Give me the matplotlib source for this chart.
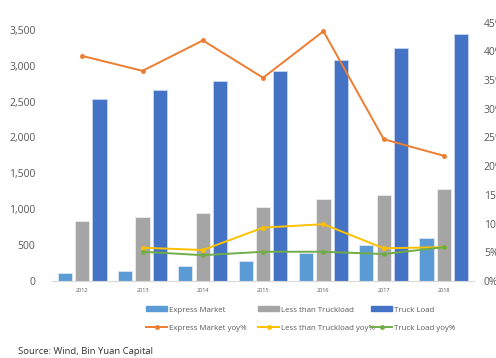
import numpy as np
import matplotlib
matplotlib.use('Agg')
import matplotlib.pyplot as plt
from matplotlib.lines import Line2D
from matplotlib.patches import Patch

plt.rcParams['font.family'] = ['Open Sans', 'DejaVu Sans']

# Data (billion RMB) and yoy growth
years = ['2012', '2013', '2014', '2015', '2016', '2017', '2018']
express = [106, 144, 205, 277, 397, 496, 603]
ltl = [840, 896, 943, 1026, 1142, 1198, 1277]
truck = [2535, 2660, 2780, 2930, 3080, 3250, 3440]
express_yoy = [39.2, 36.6, 41.9, 35.4, 43.5, 24.7, 21.8]
ltl_yoy = [np.nan, 5.8, 5.4, 9.3, 9.9, 5.7, 5.9]
truck_yoy = [np.nan, 5.1, 4.5, 5.1, 5.1, 4.7, 5.9]

c_exp, c_ltl, c_tl = '#5B9BD5', '#A5A5A5', '#4472C4'
c_exp_l, c_ltl_l, c_tl_l = '#ED7D31', '#FFC000', '#70AD47'

fig = plt.figure(figsize=(4.96, 3.58), dpi=100)
ax = fig.add_axes([0.105, 0.215, 0.851, 0.802])
x = np.arange(len(years))
w = 0.235
ax.bar(x - 0.29, express, w, color=c_exp, edgecolor='#DCE6F2', linewidth=0.6)
ax.bar(x, ltl, w, color=c_ltl, edgecolor='#EDEDED', linewidth=0.6)
ax.bar(x + 0.285, truck, w, color=c_tl, edgecolor='#C9D6EE', linewidth=0.6)
ax.set_ylim(0, 4000)
ax.set_xlim(-0.5, len(years) - 0.5)
ax.set_yticks(range(0, 3501, 500))
ax.set_yticklabels([f'{v:,}' for v in range(0, 3501, 500)])
ax.set_xticks(x)
ax.set_xticklabels(years, fontsize=4, color='#595959')
ax.tick_params(axis='y', length=0, labelsize=7.5, labelcolor='#595959', pad=12)
ax.tick_params(axis='x', length=0, pad=5)
for s in ['top', 'right', 'left']:
    ax.spines[s].set_visible(False)
ax.spines['bottom'].set_color('#D9D9D9')

ax2 = ax.twinx()
mk = dict(marker='o', markersize=2.5, linewidth=1.4)
ax2.plot(x, express_yoy, color=c_exp_l, **mk)
ax2.plot(x, ltl_yoy, color=c_ltl_l, **mk)
ax2.plot(x, truck_yoy, color=c_tl_l, **mk)
ax2.set_ylim(0, 50)
ax2.set_yticks(range(0, 46, 5))
ax2.set_yticklabels([f'{v}%' for v in range(0, 46, 5)])
ax2.tick_params(axis='y', length=0, labelsize=7.5, labelcolor='#595959', pad=7)
for s in ax2.spines.values():
    s.set_visible(False)

# legend: three columns, bar entry above line entry
cols = [
    (150, Patch(color=c_exp), 'Express Market', Line2D([], [], color=c_exp_l, **mk), 'Express Market yoy%'),
    (262, Patch(color=c_ltl), 'Less than Truckload', Line2D([], [], color=c_ltl_l, **mk), 'Less than Truckload yoy%'),
    (375, Patch(color=c_tl), 'Truck Load', Line2D([], [], color=c_tl_l, **mk), 'Truck Load yoy%'),
]
for px, h1, l1, h2, l2 in cols:
    fig.legend([h1, h2], [l1, l2], loc='upper left',
               bbox_to_anchor=((px - 6) / 496, 1 - 304 / 358),
               frameon=False, fontsize=5.7, labelcolor='#595959', handlelength=2.6,
               handleheight=0.6, handletextpad=0.2, labelspacing=1.4,
               borderpad=0.3, borderaxespad=0)

fig.text(0.036, 0.012, 'Source: Wind, Bin Yuan Capital', fontsize=6.8, color='#333333')

fig.savefig('out.png', dpi=100)
